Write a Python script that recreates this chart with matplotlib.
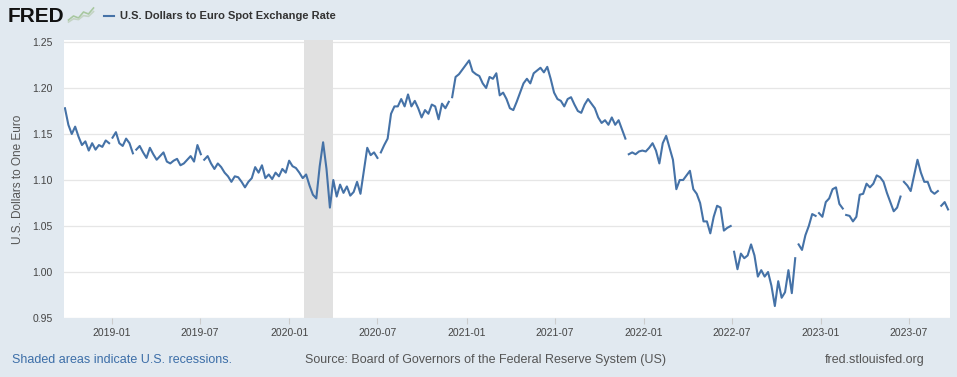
import numpy as np
import pandas as pd
import matplotlib
matplotlib.use('Agg')
import matplotlib.pyplot as plt
from matplotlib.lines import Line2D

plt.rcParams['font.family'] = ['Liberation Sans', 'DejaVu Sans']

# weekly readings (Wednesdays) of DEXUSEU
first_week = '2018-09-26'
rate = [
    1.178, 1.160, 1.150, 1.158, 1.147, 1.138, 1.142, 1.132, 1.140, 1.133,
    1.138, 1.136, 1.143, 1.140, 1.146, 1.152, 1.140, 1.137, 1.145, 1.140,
    1.129, 1.133, 1.137, 1.130, 1.124, 1.135, 1.128, 1.122, 1.126, 1.130,
    1.120, 1.118, 1.121, 1.123, 1.116, 1.118, 1.122, 1.126, 1.120, 1.138,
    1.128, 1.122, 1.126, 1.118, 1.112, 1.118, 1.114, 1.108, 1.104, 1.098,
    1.104, 1.103, 1.098, 1.092, 1.098, 1.102, 1.114, 1.108, 1.116, 1.102,
    1.106, 1.101, 1.108, 1.104, 1.112, 1.108, 1.121, 1.115, 1.113, 1.108,
    1.102, 1.106, 1.094, 1.084, 1.080, 1.115, 1.141, 1.112, 1.070, 1.100,
    1.082, 1.095, 1.086, 1.093, 1.083, 1.087, 1.098, 1.085, 1.110, 1.135,
    1.127, 1.130, 1.124, 1.130, 1.138, 1.145, 1.172, 1.180, 1.180, 1.188,
    1.180, 1.193, 1.180, 1.186, 1.178, 1.168, 1.176, 1.172, 1.182, 1.180,
    1.166, 1.183, 1.178, 1.185, 1.190, 1.212, 1.215, 1.220, 1.225, 1.230,
    1.218, 1.215, 1.213, 1.205, 1.200, 1.212, 1.210, 1.216, 1.192, 1.195,
    1.188, 1.178, 1.176, 1.185, 1.195, 1.205, 1.210, 1.205, 1.216, 1.219,
    1.222, 1.217, 1.223, 1.210, 1.195, 1.188, 1.186, 1.180, 1.188, 1.190,
    1.182, 1.175, 1.173, 1.182, 1.188, 1.183, 1.178, 1.168, 1.162, 1.165,
    1.160, 1.168, 1.160, 1.165, 1.155, 1.145, 1.128, 1.130, 1.128, 1.131,
    1.132, 1.131, 1.135, 1.140, 1.132, 1.118, 1.140, 1.148, 1.135, 1.122,
    1.090, 1.100, 1.100, 1.105, 1.110, 1.090, 1.085, 1.075, 1.055, 1.055,
    1.042, 1.060, 1.072, 1.070, 1.045, 1.048, 1.050, 1.022, 1.003, 1.020,
    1.015, 1.018, 1.030, 1.018, 0.995, 1.002, 0.995, 1.000, 0.985, 0.963,
    0.990, 0.972, 0.978, 1.002, 0.977, 1.015, 1.030, 1.024, 1.040, 1.050,
    1.063, 1.061, 1.064, 1.060, 1.076, 1.080, 1.090, 1.092, 1.074, 1.069,
    1.062, 1.061, 1.055, 1.060, 1.084, 1.085, 1.096, 1.092, 1.096, 1.105,
    1.103, 1.098, 1.086, 1.076, 1.066, 1.070, 1.082, 1.098, 1.094, 1.088,
    1.105, 1.122, 1.108, 1.098, 1.098, 1.088, 1.085, 1.088, 1.072, 1.076,
    1.068,
]

# holidays with no observation -> the line breaks there
gap_days = ['2019-01-01', '2019-02-18', '2019-07-04', '2020-07-03', '2020-11-26',
            '2021-11-25', '2022-07-04', '2022-11-11', '2022-12-26',
            '2023-02-20', '2023-06-19', '2023-09-04']

recession = ('2020-02-01', '2020-04-01')
x_range = ('2018-09-24', '2023-09-24')
y_ticks = [0.95, 1.00, 1.05, 1.10, 1.15, 1.20, 1.25]
x_ticks = ['2019-01', '2019-07', '2020-01', '2020-07', '2021-01', '2021-07',
           '2022-01', '2022-07', '2023-01', '2023-07']

weeks = pd.date_range(first_week, periods=len(rate), freq='7D')
s = pd.Series(rate, index=weeks)
s = pd.concat([s, pd.Series(np.nan, index=pd.to_datetime(gap_days))]).sort_index()

bg = '#e1e9f0'
blue = '#4572a7'
W, H = 957, 377

fig = plt.figure(figsize=(W / 100, H / 100), dpi=100, facecolor=bg)
ax = fig.add_axes([64 / W, 1 - 318 / H, (950 - 64) / W, (318 - 40) / H])
ax.set_facecolor('white')

ax.axvspan(pd.Timestamp(recession[0]), pd.Timestamp(recession[1]), color='#e1e1e1', lw=0, zorder=1)
ax.plot(s.index, s.values, color=blue, lw=1.5, zorder=3)

ax.set_xlim(pd.Timestamp(x_range[0]), pd.Timestamp(x_range[1]))
ax.set_ylim(0.95, 0.95 + 278 / 920)
ax.set_yticks(y_ticks)
ax.set_yticklabels(['%.2f' % v for v in y_ticks])
ax.set_xticks([pd.Timestamp(t + '-01') for t in x_ticks])
ax.set_xticklabels(x_ticks)
ax.grid(axis='y', color='#e6e6e6', lw=0.9, zorder=0)
ax.set_axisbelow(True)
for sp in ax.spines.values():
    sp.set_visible(False)
ax.tick_params(axis='y', length=0, pad=8, labelsize=7.5, labelcolor='#444444')
ax.tick_params(axis='x', length=4, color='#cccccc', pad=3, labelsize=7.5, labelcolor='#444444')
ax.set_ylabel('U.S. Dollars to One Euro', fontsize=8.5, color='#555555', labelpad=6)

# header
fig.text(8 / W, 1 - 16 / H, 'FRED', fontweight='bold',
         fontsize=15, color='#111111', va='center', ha='left')
icon = fig.add_axes([67 / W, 1 - 24 / H, 28 / W, 18 / H])
icon.set_axis_off()
icon.plot([0, 1, 2, 3, 4, 5], [0.5, 1.5, 1.0, 2.5, 2.0, 3.5], color='#a8c8a0', lw=1.2)
icon.plot([0, 1, 2, 3, 4, 5], [0.0, 0.8, 0.6, 1.6, 1.4, 2.6], color='#c4d4c4', lw=1.2)
icon.set_xlim(-0.3, 5.3)
icon.set_ylim(-0.5, 4)
fig.lines.append(Line2D([104 / W, 114 / W], [1 - 16 / H, 1 - 16 / H], transform=fig.transFigure,
                        color=blue, lw=1.5))
fig.text(120 / W, 1 - 16 / H, 'U.S. Dollars to Euro Spot Exchange Rate', fontsize=8,
         fontweight='bold', color='#333333', va='center', ha='left')

# footer
fig.text(12 / W, 1 - 360 / H, 'Shaded areas indicate U.S. recessions.', fontsize=9,
         color='#3c6ea8', va='center', ha='left')
fig.text(305 / W, 1 - 360 / H, 'Source: Board of Governors of the Federal Reserve System (US)',
         fontsize=9, color='#555555', va='center', ha='left')
fig.text(925 / W, 1 - 360 / H, 'fred.stlouisfed.org', fontsize=9, color='#555555',
         va='center', ha='right')

fig.savefig('out.png', dpi=100, facecolor=bg)
